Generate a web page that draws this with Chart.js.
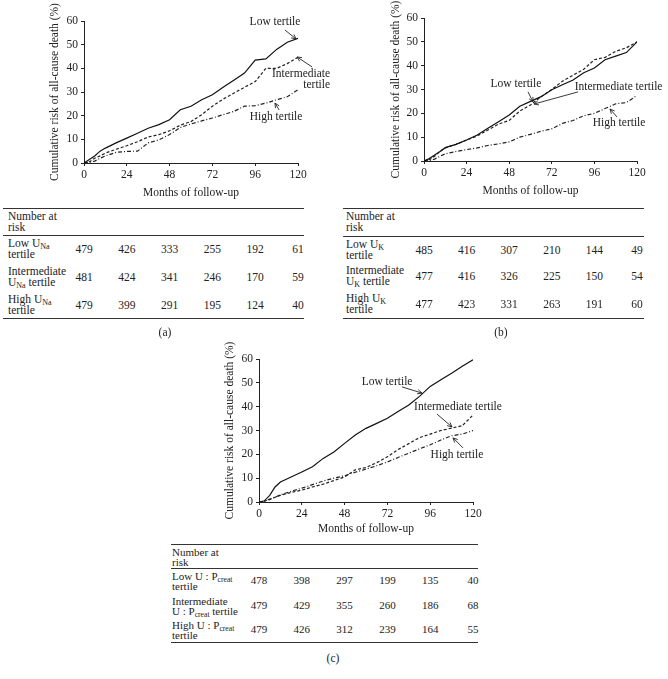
<!DOCTYPE html>
<html>
<head>
<meta charset="utf-8">
<script src="https://cdn.jsdelivr.net/npm/chart.js@4.4.1/dist/chart.umd.min.js"></script>
<style>
  body { margin: 0; background: #fff; }
  #page { position: relative; width: 668px; height: 679px; font-family: "Liberation Serif", serif; color: #222; }
  #page canvas { position: absolute; }
  .hl { position: absolute; height: 1px; background: #333; }
  .lab { position: absolute; white-space: nowrap; transform: translateY(-50%); }
  .num { position: absolute; transform: translate(-50%, -50%); white-space: nowrap; }
  .cap { position: absolute; transform: translate(-50%, -50%); font-size: 11.5px; }
  sub { font-size: 70%; vertical-align: -2px; line-height: 0; }
</style>
</head>
<body>
<div id="page">
  <canvas id="ca" width="334" height="200" style="left:0;top:0"></canvas>
  <canvas id="cb" width="334" height="200" style="left:334px;top:0"></canvas>
  <canvas id="cc" width="334" height="210" style="left:170px;top:330px"></canvas>
</div>
<script>
const months = [0, 3, 6, 9, 12, 18, 24, 30, 36, 42, 48, 54, 60, 66, 72, 78, 84, 90, 96, 102, 108, 114, 120]
const tickMonths = [0, 24, 48, 72, 96, 120]

// (a) urinary sodium tertiles, cumulative risk %
const naLow = [0, 1.5, 3, 5, 6.3, 8.5, 10.5, 12.6, 14.7, 16.2, 18.3, 22.5, 24, 26.7, 28.8, 32, 35, 38, 43.5, 44, 48, 51, 52.7]
const naMid = [0, 0.5, 2, 3, 4.2, 5.8, 7.3, 9, 11, 12, 13.6, 16, 17.5, 20.4, 24, 27, 29.5, 32, 34.4, 40, 40, 42, 44.7]
const naHigh = [0, 0.3, 0.8, 2, 3, 4.5, 4.9, 5, 8.5, 9.8, 12, 15, 16.5, 17.8, 19, 20.4, 21.8, 24, 24.2, 25.3, 26.7, 28, 31]

// (b) urinary potassium tertiles
const kLow = [0, 1, 2.5, 4, 5.6, 7, 8.8, 10.9, 13.7, 16.5, 19.3, 23, 25, 27, 29.9, 32, 34, 37, 39, 42.5, 44, 45.5, 50]
const kMid = [0, 0.5, 2, 4, 5.5, 7, 8.8, 10.5, 13, 15.5, 17, 21, 23.5, 27, 30, 33.5, 36, 38.5, 42.5, 43.5, 46, 47.5, 50]
const kHigh = [0, 0.2, 0.8, 2, 3, 4, 4.8, 5.5, 6.5, 7.2, 8, 10, 11.2, 12.5, 13.5, 15.8, 17, 19, 20, 22, 24, 24.5, 27.5]

// (c) U:Pcreat tertiles
const crLow = [0, 0.5, 2.8, 6.3, 8.4, 10.5, 12.6, 14.8, 18.3, 21, 24.6, 28.1, 30.9, 33, 35.1, 38, 40.7, 44.3, 48.5, 51.3, 54, 57, 59.7]
const crMid = [0, 0.3, 1, 2, 2.8, 4, 5, 6.3, 7.5, 9, 10.5, 13.5, 14.5, 16.5, 19, 22, 24.5, 27, 28.5, 30, 31, 32, 36.5]
const crHigh = [0, 0.3, 1.2, 2, 3, 4.5, 5.8, 7.3, 8.8, 10, 11, 12.5, 13.8, 15.2, 16.8, 18.7, 20.5, 22.3, 24, 26, 27.8, 28.5, 30]

// number at risk
const naRiskLow = [479, 426, 333, 255, 192, 61]
const naRiskMid = [481, 424, 341, 246, 170, 59]
const naRiskHigh = [479, 399, 291, 195, 124, 40]
const kRiskLow = [485, 416, 307, 210, 144, 49]
const kRiskMid = [477, 416, 326, 225, 150, 54]
const kRiskHigh = [477, 423, 331, 263, 191, 60]
const crRiskLow = [478, 398, 297, 199, 135, 40]
const crRiskMid = [479, 429, 355, 260, 186, 68]
const crRiskHigh = [479, 426, 312, 239, 164, 55]

const fontFamily = '"Liberation Serif", serif'
Chart.defaults.font.family = fontFamily
Chart.defaults.font.size = 11.5
Chart.defaults.color = '#222'

// text labels and arrows drawn on the plot
const notes = {
  id: 'notes',
  afterDatasetsDraw (chart, args, opts) {
    const ctx = chart.ctx
    const xs = chart.scales.x
    const ys = chart.scales.y
    ctx.save()
    ctx.fillStyle = '#222'
    ctx.strokeStyle = '#222'
    ctx.lineWidth = 0.9
    ctx.font = '11.5px ' + fontFamily
    ctx.textBaseline = 'middle'
    opts.labels.forEach(l => {
      ctx.textAlign = l.align || 'center'
      l.text.forEach((t, i) => {
        ctx.fillText(t, xs.getPixelForValue(l.at[0]), ys.getPixelForValue(l.at[1]) + i * 10.5)
      })
    })
    opts.arrows.forEach(a => {
      const x1 = xs.getPixelForValue(a[0])
      const y1 = ys.getPixelForValue(a[1])
      const x2 = xs.getPixelForValue(a[2])
      const y2 = ys.getPixelForValue(a[3])
      const ang = Math.atan2(y2 - y1, x2 - x1)
      ctx.beginPath()
      ctx.moveTo(x1, y1)
      ctx.lineTo(x2, y2)
      ctx.moveTo(x2 - 5 * Math.cos(ang - 0.45), y2 - 5 * Math.sin(ang - 0.45))
      ctx.lineTo(x2, y2)
      ctx.lineTo(x2 - 5 * Math.cos(ang + 0.45), y2 - 5 * Math.sin(ang + 0.45))
      ctx.stroke()
    })
    ctx.restore()
  }
}

function pts (vals) {
  return vals.map((v, i) => ({ x: months[i], y: v }))
}

function kmChart (id, low, mid, high, box, note) {
  return new Chart(document.getElementById(id), {
    type: 'line',
    data: {
      datasets: [
        { data: pts(low), borderColor: '#111', borderWidth: 1.2 },
        { data: pts(mid), borderColor: '#222', borderWidth: 1.2, borderDash: [3, 2] },
        { data: pts(high), borderColor: '#222', borderWidth: 1.2, borderDash: [4, 2, 1, 2] }
      ]
    },
    plugins: [notes],
    options: {
      responsive: false,
      animation: false,
      layout: { padding: box.pad },
      elements: { point: { radius: 0 }, line: { tension: 0 } },
      plugins: { legend: { display: false }, tooltip: { enabled: false }, notes: note },
      scales: {
        x: {
          type: 'linear',
          min: 0,
          max: 120,
          afterFit: s => { s.height = box.xh },
          grid: { drawOnChartArea: false, drawTicks: true, tickLength: 3, color: '#222' },
          border: { display: true, color: '#222', width: 1 },
          ticks: { stepSize: 24, padding: 2, maxRotation: 0 },
          title: { display: true, text: 'Months of follow-up', padding: { top: 0, bottom: box.tb } }
        },
        y: {
          min: 0,
          max: 60,
          afterFit: s => { s.width = box.yw },
          grid: { drawOnChartArea: false, drawTicks: true, tickLength: 3, color: '#222' },
          border: { display: true, color: '#222', width: 1 },
          ticks: { stepSize: 10, padding: 3 },
          title: { display: true, text: 'Cumulative risk of all-cause death (%)', padding: 0 }
        }
      }
    }
  })
}

const chartA = kmChart('ca', naLow, naMid, naHigh,
  { pad: { left: 48, right: 36, top: 21, bottom: 0 }, yw: 36, xh: 37, tb: 0 },
  {
    labels: [
      { text: ['Low tertile'], at: [107.1, 59.6] },
      { text: ['Intermediate', 'tertile'], at: [138, 37.6], align: 'right' },
      { text: ['High tertile'], at: [107.7, 19.4] }
    ],
    arrows: [[112.7, 56.2, 118.9, 52.4], [127.9, 40.6, 119.5, 44.8], [109.4, 22.4, 107.1, 25.3]]
  })

const chartB = kmChart('cb', kLow, kMid, kHigh,
  { pad: { left: 55, right: 31, top: 18, bottom: 0 }, yw: 35, xh: 39, tb: 2 },
  {
    labels: [
      { text: ['Low tertile'], at: [51.8, 32.3] },
      { text: ['Intermediate tertile'], at: [109.6, 31] },
      { text: ['High tertile'], at: [109.9, 15.9] }
    ],
    arrows: [[58.6, 29, 61.4, 24.8], [86.8, 29, 62, 23.9], [108.7, 18.5, 104.8, 21.8]]
  })

const chartC = kmChart('cc', crLow, crMid, crHigh,
  { pad: { left: 53, right: 31, top: 29, bottom: 0 }, yw: 36, xh: 38, tb: 4 },
  {
    labels: [
      { text: ['Low tertile'], at: [71.8, 50.4] },
      { text: ['Intermediate tertile'], at: [111.6, 39.9] },
      { text: ['High tertile'], at: [111, 19.7] }
    ],
    arrows: [[80.2, 48.3, 91.4, 45.7], [99.8, 36.9, 108.2, 31.5], [114.4, 22.7, 108.8, 26.9]]
  })

// number-at-risk tables under each plot
const page = document.getElementById('page')
function put (cls, x, y, html, extra) {
  const d = document.createElement('div')
  d.className = cls
  d.style.left = x + 'px'
  d.style.top = y + 'px'
  d.innerHTML = html
  if (extra) Object.assign(d.style, extra)
  page.appendChild(d)
}

function riskTable (chart, canvasLeft, t) {
  const txt = { fontSize: t.fs + 'px', lineHeight: t.lh + 'px' }
  ;[t.top, t.head, t.bottom].forEach(y => {
    put('hl', t.x0, y, '', { width: (t.x1 - t.x0) + 'px' })
  })
  put('lab', t.lx, t.headY, 'Number at<br>risk', txt)
  t.rows.forEach((r, i) => {
    put('lab', t.lx, t.rowY[i], r[0], txt)
    r[1].forEach((v, j) => {
      const x = canvasLeft + chart.scales.x.getPixelForValue(tickMonths[j])
      put('num', x, t.rowY[i], String(v), txt)
    })
  })
  put('cap', t.capX, t.capY, t.cap)
}

riskTable(chartA, 0, {
  x0: 3, x1: 304, top: 208, head: 235, bottom: 318, lx: 8, headY: 222, fs: 11.5, lh: 11,
  rowY: [249, 277, 305], capX: 165, capY: 332, cap: '(a)',
  rows: [
    ['Low U<sub>Na</sub><br>tertile', naRiskLow],
    ['Intermediate<br>U<sub>Na</sub> tertile', naRiskMid],
    ['High U<sub>Na</sub><br>tertile', naRiskHigh]
  ]
})

riskTable(chartB, 334, {
  x0: 343, x1: 644, top: 208, head: 236, bottom: 318, lx: 346, headY: 222, fs: 11.5, lh: 11,
  rowY: [250, 276, 304], capX: 501, capY: 332, cap: '(b)',
  rows: [
    ['Low U<sub>K</sub><br>tertile', kRiskLow],
    ['Intermediate<br>U<sub>K</sub> tertile', kRiskMid],
    ['High U<sub>K</sub><br>tertile', kRiskHigh]
  ]
})

riskTable(chartC, 170, {
  x0: 171, x1: 478, top: 544, head: 568, bottom: 642, lx: 172, headY: 557, fs: 11, lh: 9.5,
  rowY: [581, 606, 630], capX: 333, capY: 658, cap: '(c)',
  rows: [
    ['Low U : P<sub>creat</sub><br>tertile', crRiskLow],
    ['Intermediate<br>U : P<sub>creat</sub> tertile', crRiskMid],
    ['High U : P<sub>creat</sub><br>tertile', crRiskHigh]
  ]
})
</script>
</body>
</html>
